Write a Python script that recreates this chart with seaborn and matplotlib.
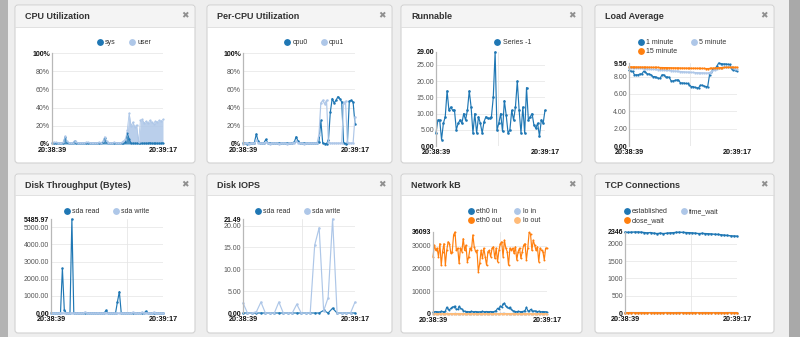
import matplotlib
matplotlib.use('Agg')
import numpy as np
import pandas as pd
import matplotlib.pyplot as plt
from matplotlib.patches import Rectangle, FancyBboxPatch
from matplotlib.lines import Line2D
import seaborn as sns

# ---------------- data ----------------
TIME_LABELS = ['20:38:39', '20:39:17']

cpu_sys = [1, 1.5, 1, 1, 1, 1, 1.5, 8, 2, 1,
           1, 1, 3, 1.5, 1, 1, 1, 1, 1, 1.5,
           1, 1, 1, 1, 1, 1.5, 1, 2, 7, 2,
           1, 1, 1, 1.5, 1, 1, 1, 1, 1.5, 2,
           12, 6, 1, 1, 1, 1, 1, 1, 1, 1,
           1, 1, 1.5, 1, 1, 1, 1, 1, 1, 1.5]
cpu_user = [0.5, 0.5, 0.8, 0.5, 0.5, 0.5, 0.5, 1, 0.8, 0.5,
            0.5, 0.5, 0.8, 0.5, 0.5, 0.5, 0.5, 0.5, 0.8, 0.5,
            0.5, 0.5, 0.5, 0.5, 0.5, 0.5, 0.5, 0.8, 1, 0.8,
            0.5, 0.5, 0.5, 0.5, 0.5, 0.5, 0.5, 0.8, 1.5, 3,
            3, 28, 19, 23, 18, 20, 1, 25, 26, 22,
            24, 22, 24.5, 23, 21, 24, 23, 25, 24, 25.5]

cpu0 = [1, 1, 0.5, 1, 1, 1, 1.5, 11, 3, 1,
        1, 1, 5, 1.5, 1, 1, 1, 1, 1, 1,
        1, 1, 1, 1, 1, 1, 1.5, 2, 8, 3,
        1, 1, 1, 1, 1, 1, 1, 1, 1, 1.5,
        2, 26, 1, 0.5, 0.5, 4, 35, 50, 45, 48,
        52, 50, 46, 1, 0.5, 1, 47, 48, 46, 22]
cpu1 = [0.5, 1, 1, 0.5, 1, 1, 1, 4, 1.5, 1,
        1, 1, 2, 1, 0.5, 1, 1, 1, 1, 0.5,
        1, 1, 1, 0.5, 1, 1, 1, 1.5, 3, 1.5,
        1, 1, 0.5, 1, 1, 1, 1, 1, 1, 1,
        10, 45, 48, 44, 48, 2, 1, 1, 1, 1,
        1, 1, 1, 45, 47, 2, 1, 1, 1, 30]

runnable = [4, 8, 8, 2, 7, 9, 17, 11, 12, 11,
            11, 5, 7, 8, 7, 10, 8, 11, 17, 12,
            4, 10, 4, 9, 7, 4, 7.5, 9, 8.5, 8.5,
            9, 15, 29, 5, 7, 10, 4.5, 14, 9.5, 4,
            5, 11, 8, 12, 20, 11, 4, 12, 4, 18,
            8, 9, 10, 6.5, 5.5, 7, 3, 8, 7, 11]

load1 = [8.7, 8.6, 8.6, 8.2, 8.2, 8.2, 8.3, 8.3, 8.6, 8.5,
         8.3, 8.3, 8.2, 8.0, 8.0, 7.9, 7.8, 7.8, 8.2, 8.2,
         7.95, 7.95, 7.9, 7.5, 7.5, 7.55, 7.6, 7.6, 7.3, 7.25,
         7.25, 7.2, 7.2, 7.0, 6.85, 6.85, 6.75, 6.7, 6.7, 7.0,
         7.0, 6.9, 6.85, 6.85, 8.2, 8.5, 8.9, 8.9, 9.2, 9.56,
         9.5, 9.45, 9.45, 9.45, 9.4, 9.4, 8.9, 8.8, 8.7, 8.6]
load5 = [9.0, 9.0, 8.98, 8.97, 8.95, 8.95, 8.93, 8.93, 8.92, 8.9,
         8.9, 8.88, 8.86, 8.85, 8.83, 8.82, 8.8, 8.8, 8.78, 8.76,
         8.74, 8.72, 8.7, 8.68, 8.66, 8.64, 8.62, 8.6, 8.58, 8.56,
         8.55, 8.53, 8.52, 8.5, 8.48, 8.47, 8.46, 8.45, 8.44, 8.43,
         8.43, 8.42, 8.41, 8.4, 8.45, 8.55, 8.7, 8.8, 8.85, 8.95,
         9.0, 9.05, 9.07, 9.1, 9.1, 9.1, 9.05, 8.95, 8.9, 8.85]
load15 = [9.12, 9.12, 9.11, 9.11, 9.1, 9.1, 9.1, 9.09, 9.09, 9.08,
          9.08, 9.07, 9.07, 9.06, 9.06, 9.05, 9.05, 9.04, 9.04, 9.03,
          9.03, 9.02, 9.02, 9.01, 9.0, 9.0, 8.99, 8.99, 8.98, 8.98,
          8.97, 8.97, 8.96, 8.96, 8.95, 8.95, 8.95, 8.94, 8.94, 8.93,
          8.93, 8.93, 8.92, 8.92, 8.93, 8.95, 8.97, 8.99, 9.0, 9.02,
          9.03, 9.04, 9.05, 9.06, 9.06, 9.07, 9.07, 9.07, 9.07, 9.07]

disk_read = [0, 0, 0, 0, 0, 0, 2600, 200, 0, 0,
             0, 5485.97, 20, 0, 0, 0, 0, 0, 0, 0,
             0, 0, 0, 0, 0, 0, 0, 0, 0, 150,
             0, 0, 0, 0, 0, 650, 1250, 0, 0, 0,
             0, 0, 0, 0, 0, 0, 0, 0, 0, 0,
             100, 0, 0, 0, 0, 0, 0, 0, 0, 0]
disk_write = [0, 0, 0, 0, 0, 0, 0, 0, 0, 0,
              0, 0, 0, 0, 0, 0, 0, 0, 60, 0,
              0, 0, 0, 0, 0, 0, 0, 0, 0, 0,
              0, 0, 0, 0, 0, 0, 0, 0, 0, 0,
              0, 0, 0, 40, 0, 0, 0, 0, 50, 0,
              0, 0, 0, 0, 40, 0, 0, 0, 0, 0]

iops_read = [0, 0, 0, 0, 0, 0, 0, 0, 0, 0,
             0, 0, 0, 0, 0, 0, 0, 0, 0.6, 0,
             1.1, 0, 0, 0, 0, 0]
iops_write = [2.3, 0, 0, 0.3, 2.5, 0, 0, 0, 2.5, 0,
              0, 0, 2, 0, 0, 0, 15.5, 19.5, 0.5, 3.5,
              21.49, 0, 0, 0, 0, 2.5]

eth0_in = [800, 1000, 1100, 1000, 900, 1000, 1200, 1100, 1000, 1200,
           3000, 2200, 1800, 2500, 3000, 3200, 3500, 2000, 2000, 3400,
           2500, 2200, 1500, 1200, 1000, 1100, 1000, 1000, 1200, 1000,
           1000, 1100, 1000, 900, 1000, 1000, 1200, 1000, 1000, 1100,
           1000, 1000, 1100, 1000, 1000, 1200, 1500, 2500, 2000, 3500,
           3000, 4500, 4800, 3500, 3000, 2500, 3000, 2000, 1500, 1200,
           1100, 1000, 1200, 1100, 1000, 1100, 1200, 1500, 3000, 1500,
           1200, 2000, 1500, 1200, 1400, 1200, 1000, 1200, 1100, 1000,
           1100, 1000, 1000, 900]
eth0_out = [25200, 30300, 28000, 29000, 25200, 31000, 21500, 27500, 31000, 21500,
            28000, 31800, 31000, 26700, 27500, 34800, 36093, 28000, 29000, 22300,
            29000, 27500, 33200, 28000, 30300, 23000, 25200, 29000, 28000, 34800,
            29600, 27500, 28000, 18600, 22300, 28000, 24500, 29000, 25200, 21500,
            27500, 28000, 25200, 29000, 29600, 24500, 29000, 23000, 28000, 31000,
            31800, 25200, 32500, 29000, 27500, 21500, 29000, 28000, 29000, 26700,
            29600, 23800, 27500, 29000, 24500, 27500, 30300, 31000, 23800, 29000,
            35900, 35200, 28000, 32500, 30300, 28000, 29600, 23000, 29000, 28000,
            27500, 23800, 29000, 29000]
lo_in = [200, 210, 190, 200, 220, 200, 190, 210, 200, 200,
         230, 210, 200, 220, 210, 200, 230, 200, 210, 220,
         200, 190, 200, 210, 200, 200, 190, 210, 200, 200,
         200, 210, 190, 200, 200, 210, 200, 190, 200, 210,
         200, 200, 210, 190, 200, 210, 200, 220, 210, 230,
         220, 240, 230, 220, 210, 200, 210, 200, 200, 190,
         200, 210, 200, 190, 200, 210, 200, 200, 220, 200,
         200, 210, 200, 190, 200, 210, 200, 200, 190, 200,
         210, 200, 200, 190]
lo_out = [150, 160, 140, 150, 170, 150, 140, 160, 150, 150,
          180, 160, 150, 170, 160, 150, 180, 150, 160, 170,
          150, 140, 150, 160, 150, 150, 140, 160, 150, 150,
          150, 160, 140, 150, 150, 160, 150, 140, 150, 160,
          150, 150, 160, 140, 150, 160, 150, 170, 160, 180,
          170, 190, 180, 170, 160, 150, 160, 150, 150, 140,
          150, 160, 150, 140, 150, 160, 150, 150, 170, 150,
          150, 160, 150, 140, 150, 160, 150, 150, 140, 150,
          160, 150, 150, 140]

tcp_established = [2340, 2335, 2340, 2346, 2346, 2340, 2330, 2320, 2330, 2310,
                   2300, 2310, 2300, 2310, 2320, 2325, 2335, 2340, 2335, 2330,
                   2325, 2320, 2310, 2300, 2305, 2300, 2295, 2290, 2280, 2275,
                   2265, 2255, 2245, 2235, 2230, 2225]
tcp_time_wait = [12, 10, 14, 12, 11, 13, 12, 10, 12, 14,
                 12, 11, 12, 13, 12, 10, 12, 14, 12, 11,
                 12, 13, 12, 10, 12, 14, 12, 11, 12, 13,
                 12, 10, 12, 14, 12, 11]
tcp_close_wait = [5, 5, 6, 5, 5, 5, 6, 5, 5, 5,
                  6, 5, 5, 5, 6, 5, 5, 5, 6, 5,
                  5, 5, 6, 5, 5, 5, 6, 5, 5, 5,
                  6, 5, 5, 5, 6, 5]

DARK, LIGHT, ORANGE, LORANGE = '#1f77b4', '#aec7e8', '#ff7f0e', '#ffbb78'

# ---------------- figure ----------------
sns.set_theme(style='white')
plt.rcParams['font.family'] = ['Liberation Sans', 'DejaVu Sans']

W, H = 800, 337
fig = plt.figure(figsize=(8, 3.37), dpi=100)
fig.patch.set_facecolor('#eeeeee')

bg = fig.add_axes([0, 0, 1, 1])
bg.set_xlim(0, W)
bg.set_ylim(H, 0)
bg.axis('off')
bg.add_patch(Rectangle((0, 0), 8, H, color='#b3b3b3', lw=0))
bg.add_patch(Rectangle((789, 0), 11, H, color='#a9a9a9', lw=0))


def panel(x0, x1, y0, y1, hb, title):
    bg.add_patch(FancyBboxPatch((x0, y0), x1 - x0, y1 - y0,
                                boxstyle='round,pad=0,rounding_size=3',
                                fc='white', ec='#d2d2d2', lw=0.8))
    bg.add_patch(Rectangle((x0 + 1, y0 + 1), x1 - x0 - 2, hb - y0 - 1,
                           fc='#f4f4f4', ec='none'))
    bg.plot([x0, x1], [hb, hb], color='#dcdcdc', lw=0.6)
    bg.text(x0 + 10, (y0 + hb) / 2 + 0.5, title, fontsize=6.5, fontweight='bold',
            color='#333333', va='center', ha='left')
    bg.text(x1 - 10, (y0 + hb) / 2, '\u2716', fontsize=6.5, color='#8f8f8f',
            va='center', ha='center', family=['DejaVu Sans'])


def mkax(x0, x1, yt, yb):
    return fig.add_axes([x0 / W, 1 - yb / H, (x1 - x0) / W, (yb - yt) / H])


def style(ax, n, ymax, ticks, fmt, vfrac=None):
    ax.set_facecolor('none')
    ax.set_xlim(0, n - 1)
    ax.set_ylim(0, ymax)
    for s in ['top', 'right', 'bottom']:
        ax.spines[s].set_visible(False)
    ax.spines['left'].set_color('#b8b8b8')
    ax.spines['left'].set_linewidth(0.9)
    allt = list(ticks)
    if ymax not in allt:
        allt.append(ymax)
    ax.set_yticks(allt)
    ax.set_yticklabels([fmt(t) for t in allt])
    ax.tick_params(axis='y', length=0, pad=1.5, labelsize=5.0, labelcolor='#555555')
    for lab, t in zip(ax.get_yticklabels(), allt):
        if t == 0 or t == ymax:
            lab.set_fontweight('bold')
            lab.set_color('#111111')
    ax.set_xticks([0, n - 1])
    ax.set_xticklabels(TIME_LABELS, fontweight='bold', fontsize=5.2, color='#111111')
    ax.tick_params(axis='x', length=0, pad=2.0)
    for t in ticks[1:]:
        if t != ymax:
            ax.axhline(t, color='#e9e9e9', lw=0.6, zorder=0)
    if ymax in ticks:
        ax.axhline(ymax, color='#e9e9e9', lw=0.6, zorder=0)
    if vfrac is not None:
        ax.axvline(vfrac * (n - 1), color='#e6e6e6', lw=0.6, zorder=0)
    ax.set_xlabel('')
    ax.set_ylabel('')
    ax.grid(False)


def lines(ax, series, colors, lw=0.85, ms=1.8):
    frames = []
    for name, vals in series:
        frames.append(pd.DataFrame({'x': np.arange(len(vals)), 'v': vals, 's': name}))
    df = pd.concat(frames, ignore_index=True)
    names = [s[0] for s in series]
    sns.lineplot(data=df, x='x', y='v', hue='s', hue_order=names,
                 palette=dict(zip(names, colors)), marker='o', markersize=ms,
                 markeredgewidth=0, linewidth=lw, legend=False, ax=ax,
                 estimator=None, sort=False)
    for ln in ax.lines:
        ln.set_clip_on(False)


def leg(names, colors, xr, yt, ncol):
    handles = [Line2D([], [], marker='o', ls='', ms=3.9, mfc=c, mec=c) for c in colors]
    lg = fig.legend(handles, names, loc='upper right', bbox_to_anchor=(xr / W, 1 - yt / H),
                    ncol=ncol, frameon=False, fontsize=5.0, handletextpad=0.25,
                    columnspacing=1.8, borderpad=0, borderaxespad=0, handlelength=1.0,
                    labelspacing=0.35)
    for t in lg.get_texts():
        t.set_color('#333333')


pct = lambda t: f'{t:.0f}%'
f2 = lambda t: f'{t:.2f}'
f0 = lambda t: f'{t:.0f}'

# Panels
cols = [(15, 195), (207, 392), (401, 582), (595, 774)]
panel(*cols[0], 5, 163, 27, 'CPU Utilization')
panel(*cols[1], 5, 163, 27, 'Per-CPU Utilization')
panel(*cols[2], 5, 163, 27, 'Runnable')
panel(*cols[3], 5, 163, 27, 'Load Average')
panel(*cols[0], 174, 333, 195, 'Disk Throughput (Bytes)')
panel(*cols[1], 174, 333, 195, 'Disk IOPS')
panel(*cols[2], 174, 333, 195, 'Network kB')
panel(*cols[3], 174, 333, 195, 'TCP Connections')

# 1 CPU Utilization (stacked area)
ax = mkax(52, 163, 53, 144)
x = np.arange(len(cpu_sys))
sys_a = np.array(cpu_sys)
tot = sys_a + np.array(cpu_user)
ax.fill_between(x, 0, sys_a, color=DARK, alpha=0.8, lw=0)
ax.fill_between(x, sys_a, tot, color=LIGHT, alpha=0.85, lw=0)
lines(ax, [('sys', cpu_sys), ('user', list(tot))], [DARK, LIGHT], lw=0.6, ms=1.6)
style(ax, len(cpu_sys), 100, [0, 20, 40, 60, 80, 100], pct)
leg(['sys', 'user'], [DARK, LIGHT], 151, 39, 2)

# 2 Per-CPU
ax = mkax(243, 355, 53, 144)
lines(ax, [('cpu0', cpu0), ('cpu1', cpu1)], [DARK, LIGHT], lw=0.85, ms=1.8)
style(ax, len(cpu0), 100, [0, 20, 40, 60, 80, 100], pct)
leg(['cpu0', 'cpu1'], [DARK, LIGHT], 344, 39, 2)

# 3 Runnable
ax = mkax(436, 545, 52, 146)
lines(ax, [('Series -1', runnable)], [DARK], lw=0.85, ms=1.9)
style(ax, len(runnable), 29, [0, 5, 10, 15, 20, 25], f2, vfrac=0.57)
leg(['Series -1'], [DARK], 531, 39, 1)

# 4 Load Average
ax = mkax(629, 737, 63, 146)
lines(ax, [('1 minute', load1), ('5 minute', load5), ('15 minute', load15)],
      [DARK, LIGHT, ORANGE], lw=0.85, ms=1.6)
style(ax, len(load1), 9.56, [0, 2, 4, 6, 8], f2, vfrac=0.565)
leg(['1 minute', '15 minute', '5 minute'], [DARK, ORANGE, LIGHT], 726, 39, 2)

# 5 Disk Throughput
ax = mkax(51, 163, 219, 313)
lines(ax, [('sda read', disk_read), ('sda write', disk_write)], [DARK, LIGHT], lw=0.85, ms=1.8)
style(ax, len(disk_read), 5485.97, [0, 1000, 2000, 3000, 4000, 5000], f2, vfrac=0.68)
leg(['sda read', 'sda write'], [DARK, LIGHT], 149, 208, 2)

# 6 Disk IOPS
ax = mkax(243, 355, 219, 313)
lines(ax, [('sda read', iops_read), ('sda write', iops_write)], [DARK, LIGHT], lw=0.85, ms=1.8)
style(ax, len(iops_read), 21.49, [0, 5, 10, 15, 20], f2, vfrac=0.53)
leg(['sda read', 'sda write'], [DARK, LIGHT], 340, 208, 2)

# 7 Network kB
ax = mkax(433, 547, 232, 314)
lines(ax, [('eth0 in', eth0_in), ('lo in', lo_in), ('eth0 out', eth0_out), ('lo out', lo_out)],
      [DARK, LIGHT, ORANGE, LORANGE], lw=0.85, ms=1.4)
style(ax, len(eth0_in), 36093, [0, 10000, 20000, 30000], f0, vfrac=0.59)
leg(['eth0 in', 'eth0 out', 'lo in', 'lo out'], [DARK, ORANGE, LIGHT, LORANGE], 540, 208, 2)

# 8 TCP Connections
ax = mkax(625, 737, 232, 313)
lines(ax, [('established', tcp_established), ('time_wait', tcp_time_wait),
           ('close_wait', tcp_close_wait)], [DARK, LIGHT, ORANGE], lw=1.0, ms=1.8)
style(ax, len(tcp_established), 2346, [0, 500, 1000, 1500, 2000], f0, vfrac=0.59)
leg(['established', 'close_wait', 'time_wait'], [DARK, ORANGE, LIGHT], 719, 208, 2)

fig.savefig('out.png', dpi=100, facecolor=fig.get_facecolor())
